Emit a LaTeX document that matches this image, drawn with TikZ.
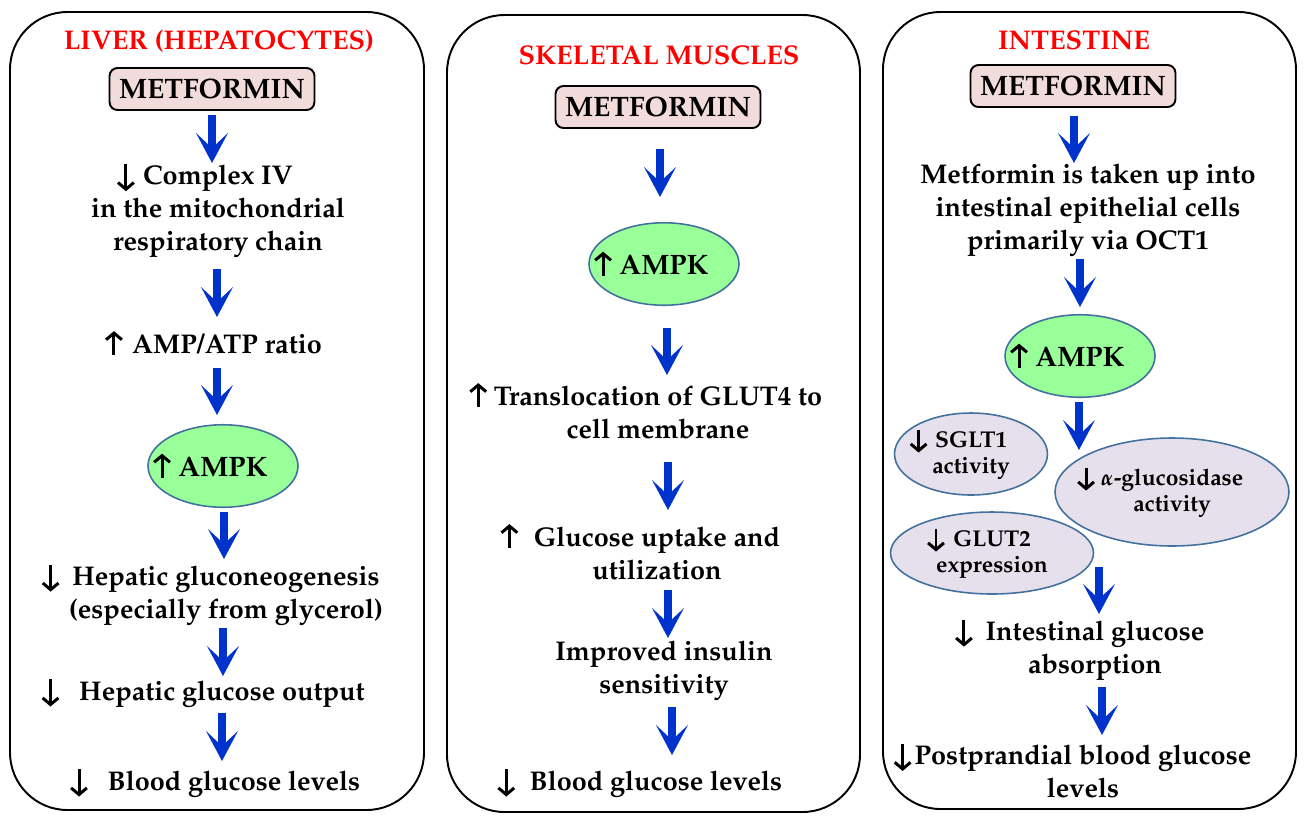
\documentclass[tikz,border=0pt]{standalone}
\usepackage[T1]{fontenc}
\usepackage{mathpazo}
\usepackage{bm}
\usetikzlibrary{arrows.meta,shapes.geometric}
\definecolor{flowblue}{RGB}{0,51,204}
\definecolor{metpink}{RGB}{242,220,219}
\definecolor{ampkgreen}{RGB}{153,255,153}
\definecolor{lilac}{RGB}{230,224,236}
\definecolor{rimblue}{RGB}{65,113,156}
\tikzset{smallarr/.style={line width=1.7pt,-{Straight Barb[length=3.8pt,width=9pt,line width=1.7pt]}}}
\newcommand{\arrdn}[1]{\llap{\tikz[baseline=0pt]\draw[smallarr] (0,0.76em) -- (0,-0.24em);\hspace{#1}}}
\newcommand{\arrup}[1]{\llap{\tikz[baseline=0pt]\draw[smallarr] (0,-0.06em) -- (0,0.82em);\hspace{#1}}}

\begin{document}
\begin{tikzpicture}[x=0.02cm,y=-0.02cm,>=Stealth,
    panel/.style={draw,line width=1.1pt,rounded corners=1.15cm},
    title/.style={text=red,inner sep=0pt,font=\fontsize{15.4}{18.7}\selectfont\bfseries},
    txt/.style={align=center,inner sep=0pt,font=\fontsize{15.4}{18.7}\selectfont\bfseries},
    metbox/.style={draw,line width=1.1pt,fill=metpink,rounded corners=0.16cm,minimum width=4.1cm,
        minimum height=0.84cm,inner sep=0pt,font=\fontsize{16}{19}\selectfont\bfseries},
    ampk/.style={ellipse,draw=rimblue,line width=0.9pt,fill=ampkgreen,minimum width=3cm,
        minimum height=1.65cm,inner sep=0pt,font=\fontsize{16}{19}\selectfont\bfseries},
    lilacell/.style={ellipse,draw=rimblue,line width=0.9pt,fill=lilac,inner sep=0pt,align=center,
        font=\fontsize{13}{15.3}\selectfont\bfseries},
    flow/.style={draw=flowblue,line width=4.5pt,-{Stealth[length=0.6cm,width=0.64cm,inset=0.3cm,line width=0pt]}}]
        \useasboundingbox (0,0) rectangle (1306,823);
        \draw[panel] (10,12) rectangle (424,810);
        \draw[panel] (447,15) rectangle (860,812);
        \draw[panel] (883,12) rectangle (1296,809);

        \node[title] (liv) at (219,41) {LIVER (HEPATOCYTES)};
        \node[metbox] (met1) at (212,89) {METFORMIN};
        \node[txt] (cx1) at (218,210) {\arrdn{4.5pt}Complex IV\\in the mitochondrial\\respiratory chain};
        \node[txt] (rat1) at (227,343) {\arrup{5pt}AMP/ATP ratio};
        \node[ampk] (ampk1) at (223,466) {\arrup{4pt}AMPK};
        \node[txt] (gng1) at (226,594) {\arrdn{7pt}Hepatic gluconeogenesis\\(especially from glycerol)};
        \node[txt] (out1) at (222,693) {\arrdn{11pt}Hepatic glucose output};
        \node[txt] (bg1) at (234,783) {\arrdn{11pt}Blood glucose levels};

        \node[title] (musc) at (659,55) {SKELETAL MUSCLES};
        \node[metbox] (met2) at (658,107) {METFORMIN};
        \node[ampk] (ampk2) at (664,264) {\arrup{4pt}AMPK};
        \node[txt] (glu4) at (658,410) {\arrup{3.5pt}Translocation of GLUT4 to\\cell membrane};
        \node[txt] (upt2) at (657,551) {\arrup{8.5pt}Glucose uptake and\\utilization};
        \node[txt] (ins2) at (664,671) {Improved insulin\\sensitivity};
        \node[txt] (bg2) at (656,783) {\arrdn{8pt}Blood glucose levels};

        \node[title] (gut) at (1074,40) {INTESTINE};
        \node[metbox] (met3) at (1073,86) {METFORMIN};
        \node[txt] (oct) at (1088,210) {Metformin is taken up into\\intestinal epithelial cells\\primarily via OCT1};
        \node[ampk] (ampk3) at (1080,356) {\arrup{4pt}AMPK};
        \node[lilacell,minimum width=3.06cm,minimum height=1.64cm] (sglt) at (971,454) {\arrdn{4pt}SGLT1\\activity};
        \node[lilacell,minimum width=4.68cm,minimum height=2.16cm] (agl) at (1172,492) {\arrdn{3pt}$\bm{\alpha}$-glucosidase\\activity};
        \node[lilacell,minimum width=4.06cm,minimum height=1.64cm] (glt) at (992,553) {\arrdn{4.5pt}GLUT2\\expression};
        \node[txt] (abs3) at (1095,649) {\arrdn{7pt}Intestinal glucose\\absorption};
        \node[txt] (pp3) at (1083,770) {\arrdn{1.5pt}Postprandial blood glucose\\levels};

        \foreach \n/\x/\ya/\yb in {l1/212/115/163, l2/217/269/317, l3/217/368/415, l4/224/512/559,
            l5/223/628/676, l6/222/713/761, m1/660/149/197, m2/667/328/375, m3/668/462/510,
            m4/668/590/638, m5/672/707/755, g1/1074/116/163, g2/1080/259/307, g3/1079/402/450,
            g4/1099/567/614, g5/1102/687/735}
        {
            \coordinate (\n s) at (\x,\ya);
            \coordinate (\n e) at (\x,\yb);
            \draw[flow] (\n s) -- (\n e);
        }
    \end{tikzpicture}
\end{document}
